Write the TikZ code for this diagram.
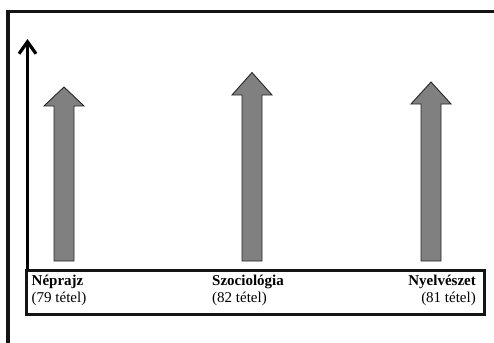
\documentclass[tikz,border=0pt]{standalone}
\usepackage{fontspec}
\setmainfont{Liberation Serif}
\usetikzlibrary{arrows.meta}
\tikzset{
  frameline/.style={line width=3.2pt, draw=black!92},
  bigarrow/.style={fill=black!50, draw=black!85, line width=0.9pt, line join=miter},
  axisline/.style={line width=3pt, -{Straight Barb[length=12pt, width=17pt, line width=3.2pt]}},
  lbl/.style={inner sep=0pt, font=\fontsize{15}{17}\selectfont, align=left},
  lblr/.style={inner sep=0pt, font=\fontsize{15}{17}\selectfont, align=right}
}
\begin{document}
\begin{tikzpicture}[x=1pt,y=-1pt]
\useasboundingbox (0,0) rectangle (494,342);
% outer frame (clipped at right and bottom)
\draw[frameline] (8,345) -- (8,11.5) -- (497,11.5);
% bottom label box
\node[draw=black!92, line width=3.2pt, minimum width=458pt, minimum height=44pt, inner sep=0pt, anchor=north west] (box) at (25,269) {};
% vertical axis
\coordinate (axbot) at (27.5,269);
\coordinate (axtop) at (27.5,39);
\draw[axisline] (axbot) -- (axtop);
% three big arrows
\draw[bigarrow] (54,261) -- (54,106) -- (44,106) -- (64,87) -- (84,106) -- (74,106) -- (74,261) -- cycle;
\draw[bigarrow] (242,261) -- (242,95) -- (232,95) -- (252,72.5) -- (272,95) -- (262,95) -- (262,261) -- cycle;
\draw[bigarrow] (421,261) -- (421,104) -- (411,104) -- (431,82) -- (451,104) -- (441,104) -- (441,261) -- cycle;
% labels
\node[lbl, anchor=north west] (nep) at (31.5,274.5) {\textbf{Néprajz}\\(79 tétel)};
\node[lbl, anchor=north west] (szo) at (212,274.5) {\textbf{Szociológia}\\(82 tétel)};
\node[lblr, anchor=north east] (nye) at (476,274.5) {\textbf{Nyelvészet}\\(81 tétel)};
\end{tikzpicture}
\end{document}
